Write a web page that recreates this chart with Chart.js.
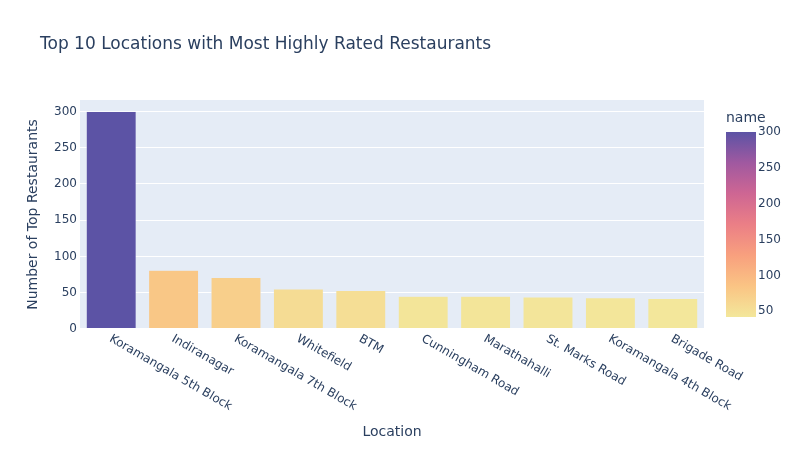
<!DOCTYPE html>
<html>
<head>
<meta charset="utf-8">
<script src="https://cdn.jsdelivr.net/npm/chart.js@4"></script>
<style>
html,body{margin:0;padding:0;background:#fff;}
#wrap{width:802px;height:450px;}
</style>
</head>
<body>
<div id="wrap"><canvas id="c" width="802" height="450"></canvas></div>
<script>
const categories = ["Koramangala 5th Block","Indiranagar","Koramangala 7th Block","Whitefield","BTM","Cunningham Road","Marathahalli","St. Marks Road","Koramangala 4th Block","Brigade Road"];
const counts = [300, 81, 71, 55, 53, 45, 45, 44, 43, 42];
const yTicks = [0, 50, 100, 150, 200, 250, 300];
const colorbarTicks = [50, 100, 150, 200, 250, 300];
const titleText = "Top 10 Locations with Most Highly Rated Restaurants";
const xTitle = "Location";
const yTitle = "Number of Top Restaurants";
const colorbarTitle = "name";

const FONT = "'DejaVu Sans', verdana, arial, sans-serif";
const TXT = "#2a3f5f";
const sunset = ['#f3e79b', '#fac484', '#f8a07e', '#eb7f86', '#ce6693', '#a059a0', '#5c53a5'];
const cmin = Math.min(...counts), cmax = Math.max(...counts);

function hex2rgb(h){return [parseInt(h.substr(1,2),16),parseInt(h.substr(3,2),16),parseInt(h.substr(5,2),16)];}
function colorFor(v){
  let t = (v - cmin) / (cmax - cmin);
  t = Math.max(0, Math.min(1, t));
  const n = sunset.length - 1;
  const i = Math.min(n - 1, Math.floor(t * n));
  const f = t * n - i;
  const a = hex2rgb(sunset[i]), b = hex2rgb(sunset[i+1]);
  const c = a.map((x,k)=>Math.round(x + (b[k]-x)*f));
  return `rgb(${c[0]},${c[1]},${c[2]})`;
}

const extras = {
  id: 'extras',
  beforeDraw(chart){
    const {ctx, chartArea:a} = chart;
    ctx.save();
    ctx.fillStyle = '#E5ECF6';
    ctx.fillRect(a.left, a.top, a.right - a.left, a.bottom - a.top);
    ctx.restore();
  },
  afterDraw(chart){
    const {ctx} = chart;
    const xs = chart.scales.x;
    const ys = chart.scales.y;
    ctx.save();
    // main title
    ctx.fillStyle = TXT;
    ctx.font = `17px ${FONT}`;
    ctx.textAlign = 'left';
    ctx.textBaseline = 'middle';
    ctx.fillText(titleText, 40, 45);
    // rotated x tick labels
    ctx.font = `12px ${FONT}`;
    const base = ys.getPixelForValue(0);
    categories.forEach((c, i) => {
      const x = xs.getPixelForValue(i);
      ctx.save();
      ctx.translate(x - 1, base + 9);
      ctx.rotate(Math.PI / 6);
      ctx.textAlign = 'left';
      ctx.textBaseline = 'middle';
      ctx.fillText(c, 0, 0);
      ctx.restore();
    });
    // colorbar
    const cbL = 726, cbW = 30, cbT = 132, cbB = 317;
    const g = ctx.createLinearGradient(0, cbB, 0, cbT);
    sunset.forEach((col, i) => g.addColorStop(i / (sunset.length - 1), col));
    ctx.fillStyle = g;
    ctx.fillRect(cbL, cbT, cbW, cbB - cbT);
    ctx.fillStyle = TXT;
    ctx.font = `12px ${FONT}`;
    ctx.textAlign = 'left';
    ctx.textBaseline = 'middle';
    colorbarTicks.forEach(v => {
      const y = cbB - (v - cmin) / (cmax - cmin) * (cbB - cbT);
      ctx.fillText(String(v), cbL + cbW + 2, y);
    });
    ctx.font = `14px ${FONT}`;
    ctx.fillText(colorbarTitle, cbL, 118);
    ctx.restore();
  }
};

new Chart(document.getElementById('c'), {
  type: 'bar',
  data: {
    labels: categories,
    datasets: [{
      data: counts,
      backgroundColor: counts.map(colorFor),
      borderColor: '#E5ECF6',
      borderWidth: 0.5,
      barPercentage: 0.8,
      categoryPercentage: 1.0
    }]
  },
  options: {
    responsive: false,
    animation: false,
    devicePixelRatio: 1,
    layout: { padding: { left: 0, top: 100, right: 98, bottom: 0 } },
    plugins: { legend: { display: false }, tooltip: { enabled: false }, title: { display: false } },
    scales: {
      x: {
        offset: true,
        grid: { display: false, drawTicks: false },
        border: { display: false },
        ticks: { display: false },
        title: { display: true, text: xTitle, color: TXT, font: { family: FONT, size: 14 }, padding: { top: 0, bottom: 9.6 } },
        afterFit(s){ s.height = 121; }
      },
      y: {
        min: 0,
        max: 315.79,
        afterBuildTicks(s){ s.ticks = yTicks.map(v => ({ value: v })); },
        grid: { color: '#ffffff', lineWidth: c => (c.tick && c.tick.value === 0 ? 2 : 1), drawTicks: false },
        border: { display: false },
        ticks: { color: TXT, font: { family: FONT, size: 12 }, padding: 3 },
        title: { display: true, text: yTitle, color: TXT, font: { family: FONT, size: 14 }, padding: { top: 24.6, bottom: 0 } },
        afterFit(s){ s.width = 80; }
      }
    }
  },
  plugins: [extras]
});
</script>
</body>
</html>
